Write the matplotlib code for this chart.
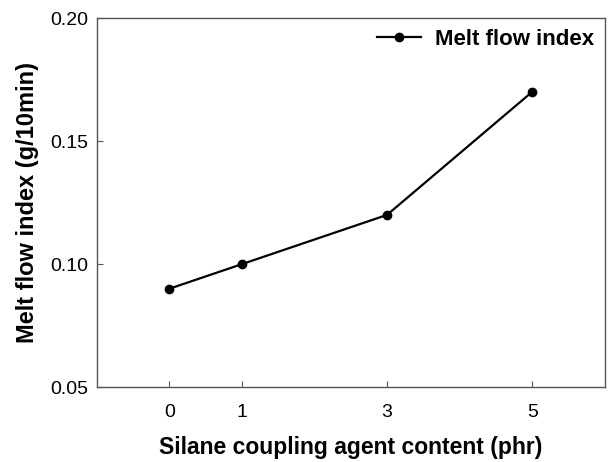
import numpy as np
import matplotlib.pyplot as plt

plt.rcParams['font.family'] = ['Liberation Sans', 'DejaVu Sans']

# silane content (phr) vs melt flow index
silane = [0, 1, 3, 5]
mfi = [0.09, 0.10, 0.12, 0.17]

fig = plt.figure(figsize=(6.09, 4.62), dpi=100)
ax = fig.add_axes([0.159, 0.162, 0.834, 0.799])

ax.plot(silane, mfi, color='black', linewidth=1.6, marker='o', markersize=6,
        label='Melt flow index')

ax.set_xlim(-1, 6)
ax.set_ylim(0.05, 0.20)
ax.set_xticks(silane)
ax.set_yticks([0.05, 0.10, 0.15, 0.20])
ax.set_yticklabels(['0.05', '0.10', '0.15', '0.20'])
ax.tick_params(direction='in', length=4, width=0.8, labelsize=14, color='#555555')
ax.tick_params(axis='x', pad=12)
ax.tick_params(axis='y', pad=6)
for s in ax.spines.values():
    s.set_color('#555555')
    s.set_linewidth(1.0)

ax.set_xlabel('Silane coupling agent content (phr)', fontsize=16.5, fontweight='bold', labelpad=11)
ax.set_ylabel('Melt flow index (g/10min)', fontsize=17, fontweight='bold', labelpad=8)

ax.legend(loc='upper right', frameon=False, prop={'weight': 'bold', 'size': 16},
          handlelength=2.0, handletextpad=0.6, borderaxespad=0.1)

fig.savefig('out.png', dpi=100)
